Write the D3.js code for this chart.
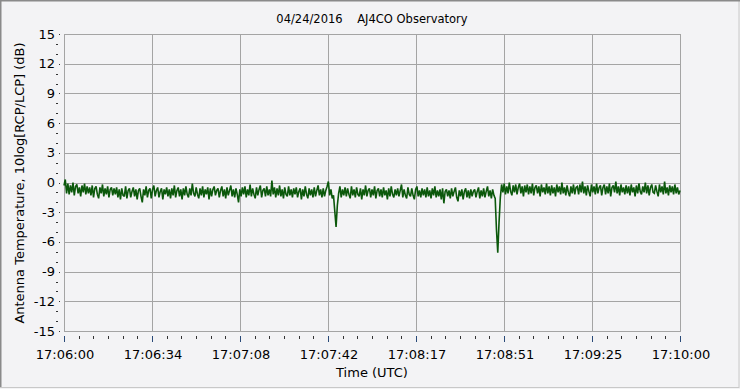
<!DOCTYPE html>
<html><head><meta charset="utf-8">
<script src="https://cdn.jsdelivr.net/npm/d3@7"></script>
<style>
html,body{margin:0;padding:0;background:#f3f3f5;}
svg{display:block;}
text{font-family:"DejaVu Sans",Verdana,sans-serif;fill:#000;}
</style></head>
<body><svg id="c" width="740" height="389"></svg>
<script>
const titleText = "04/24/2016    AJ4CO Observatory";
const xLabel = "Time (UTC)";
const yLabel = "Antenna Temperature, 10log[RCP/LCP] (dB)";
const startSec = 0, endSec = 240, sampleStep = 0.5;
const xTickLabels = ["17:06:00","17:06:34","17:07:08","17:07:42","17:08:17","17:08:51","17:09:25","17:10:00"];
const yTicks = [-15,-12,-9,-6,-3,0,3,6,9,12,15];
const values = [
-0.3,0.3,-1.1,-0.1,-1.2,-0.3,-1.0,0.0,-1.3,-0.4,-0.2,-1.1,-0.5,-1.4,-0.3,-1.0,-0.1,-1.2,-0.4,-1.1,
-0.5,-1.3,-0.3,-1.5,-0.6,-0.4,-1.2,-1.6,-0.5,-1.1,-0.2,-1.4,-0.6,-1.2,-0.4,-1.5,-0.7,-0.5,-1.3,-0.6,
-1.2,-0.5,-1.5,-0.7,-1.7,-0.6,-1.3,-1.4,-0.4,-1.6,-0.8,-0.6,-1.5,-0.9,-0.5,-1.4,-0.7,-1.7,-0.8,-0.6,
-1.4,-2.0,-0.7,-1.3,-0.4,-1.5,-0.8,-0.6,-1.6,-0.7,-0.3,-1.4,-0.8,-0.5,-1.5,-0.9,-0.6,-1.7,-0.7,-1.2,
-0.5,-1.4,-0.7,-1.6,-0.6,-1.3,-0.3,-1.5,-0.8,-0.5,-1.4,-0.7,-1.7,-0.6,-1.3,-0.4,-1.2,-1.5,-0.6,-1.3,
-0.1,-1.1,-1.4,-0.5,-1.2,-1.6,-0.6,-1.3,-0.4,-1.5,-0.7,-1.2,-0.5,-1.7,-0.6,-1.4,-0.7,-0.4,-1.3,-0.8,
-0.6,-1.5,-0.8,-0.4,-1.4,-0.7,-1.6,-0.5,-1.3,-0.8,-0.3,-1.4,-0.7,-1.5,-0.6,-1.2,-2.0,-0.7,-1.4,-0.5,
-1.2,-0.4,-1.5,-0.7,-1.3,-0.2,-1.4,-0.6,-1.2,-1.6,-0.5,-1.3,-0.7,-0.3,-1.5,-0.8,-0.6,-1.4,-0.4,-1.3,
-0.7,-1.4,0.2,-1.2,-0.5,-1.5,-0.6,-1.3,-0.3,-1.4,-0.7,-1.6,-0.5,-1.2,-1.4,-0.4,-1.3,-0.7,-1.5,-0.6,
-1.2,-0.5,-1.5,-0.9,-0.6,-1.7,-0.7,-1.4,-0.4,-1.2,-1.6,-0.6,-1.3,-0.7,-1.5,-0.5,-1.4,-0.8,-0.3,-1.3,
-0.7,-1.5,-0.6,-1.4,-0.8,-0.4,0.1,-1.3,-0.7,-1.6,-1.3,-2.9,-4.5,-2.3,-1.1,-0.4,-1.5,-0.7,-1.3,-0.5,
-1.4,-0.6,-1.2,-1.6,-0.4,-1.3,-0.7,-1.5,-0.5,-1.2,-1.4,-0.6,-1.7,-0.7,-1.3,-0.3,-1.4,-0.8,-0.6,-1.5,
-0.7,-1.3,-0.4,-1.6,-0.8,-0.6,-1.4,-0.7,-1.5,-0.5,-1.3,-0.8,-1.7,-0.6,-1.4,-0.4,-1.2,-1.5,-0.7,-1.3,
-0.6,-1.4,-0.8,-0.2,-1.5,-0.7,-1.3,-1.6,-0.5,-1.2,-1.4,-0.6,-1.3,-1.7,-0.7,-0.4,-1.4,-0.8,-1.5,-0.6,
-1.3,-0.7,-1.5,-0.5,-1.4,-0.8,-1.6,-0.6,-1.3,-0.4,-1.5,-0.8,-1.4,-0.7,-1.7,-0.6,-2.1,-0.9,-0.7,-1.4,
-0.8,-1.6,-0.6,-1.4,-0.9,-0.5,-1.5,-1.9,-0.8,-1.4,-0.7,-1.7,-0.9,-0.6,-1.5,-0.8,-1.6,-0.7,-1.4,-0.9,
-0.7,-1.5,-0.9,-0.5,-1.6,-0.8,-1.4,-0.6,-1.5,-0.9,-0.4,-1.4,-0.8,-1.6,-0.7,-1.3,-1.6,-4.8,-7.1,-4.0,
-1.5,-0.2,-1.0,-0.1,-1.2,-0.4,-1.1,0.0,-0.9,-1.3,-0.3,-1.0,-0.2,-1.2,-0.5,-0.1,-1.1,-0.4,-1.4,-0.3,
-1.0,-0.2,-1.2,-0.4,-1.1,-0.1,-1.3,-0.5,-0.3,-1.1,-0.4,-1.4,-0.2,-1.0,-0.5,-1.2,-0.1,-1.1,-0.4,-1.3,
-0.3,-1.1,-0.5,-1.4,-0.2,-1.0,-0.4,-1.2,0.0,-1.1,-0.5,-1.3,-0.3,-1.0,-1.4,-0.4,-1.1,-0.2,-1.2,-0.5,
-0.4,-1.2,-0.2,-1.0,0.1,-1.1,-0.4,-1.3,-0.3,-0.9,-1.4,-0.2,-1.0,-0.4,-1.2,-0.1,-1.1,-0.5,-0.3,-1.3,
-0.5,-0.2,-1.2,-0.4,-1.1,-0.1,-1.4,-0.5,-0.3,-1.0,0.1,-1.1,-0.4,-1.3,-0.2,-1.0,-0.5,-1.2,-0.3,-1.1,
-0.4,-1.3,-0.2,-1.0,-0.5,-1.4,-0.3,-1.1,-0.1,-0.9,-1.2,-0.4,-1.0,0.0,-1.1,-0.3,-1.3,-0.5,-0.2,-1.0,
-1.1,-0.3,-0.9,-1.4,-0.2,-1.0,-0.4,-1.2,0.1,-1.1,-0.5,-1.3,-0.3,-1.0,-0.4,-1.2,-0.2,-1.1,-0.5,-1.2,-0.8
];

const W = 740, H = 389;
const m = {left:64, right:680, top:34, bottom:331};
const svg = d3.select("#c");

// window frame
svg.append("rect").attr("x",0.5).attr("y",0.5).attr("width",W-1.5).attr("height",H-2)
  .attr("fill","#f3f3f5").attr("stroke","#c8c8c8");
svg.append("line").attr("x1",0).attr("x2",W).attr("y1",0.5).attr("y2",0.5).attr("stroke","#8a8a8a").attr("stroke-width",2);
svg.append("line").attr("x1",0.5).attr("x2",0.5).attr("y1",0).attr("y2",H-2).attr("stroke","#8a8a8a").attr("stroke-width",2);

const x = d3.scaleLinear().domain([startSec,endSec]).range([m.left,m.right]);
const y = d3.scaleLinear().domain([-15,15]).range([m.bottom,m.top]);

const nX = xTickLabels.length;
const xMajor = d3.range(nX).map(i => startSec + i*(endSec-startSec)/(nX-1));
const xMinor = [];
for (let i=0;i<nX-1;i++) for (let k=1;k<6;k++) xMinor.push(xMajor[i] + k*(xMajor[1]-xMajor[0])/6);
const yMinor = d3.range(-15,16,1).filter(v => v%3!==0);

// grid
const g = svg.append("g");
g.selectAll(".vg").data(xMajor.slice(1,-1)).enter().append("line")
  .attr("x1",d=>Math.round(x(d))+0.5).attr("x2",d=>Math.round(x(d))+0.5)
  .attr("y1",m.top).attr("y2",m.bottom).attr("stroke","#a4a4a4");
g.selectAll(".hg").data(yTicks.slice(1,-1)).enter().append("line")
  .attr("y1",d=>Math.round(y(d))+0.5).attr("y2",d=>Math.round(y(d))+0.5)
  .attr("x1",m.left).attr("x2",m.right).attr("stroke","#a4a4a4");
g.append("rect").attr("x",m.left+0.5).attr("y",m.top+0.5)
  .attr("width",m.right-m.left).attr("height",m.bottom-m.top)
  .attr("fill","none").attr("stroke","#a4a4a4");

// data line
const line = d3.line().x((d,i)=>x(startSec + i*sampleStep)).y(d=>y(d));
svg.append("path").datum(values).attr("d",line)
  .attr("fill","none").attr("stroke","#0b580b").attr("stroke-width",1.6)
  .attr("stroke-linejoin","miter").attr("stroke-miterlimit",2);

// y axis
const yAxis = svg.append("g");
yAxis.selectAll(".yl").data(yTicks).enter().append("text")
  .attr("x",55).attr("y",d=>y(d)+4.5).attr("text-anchor","end")
  .attr("font-size","13px").text(d=>d);
yAxis.selectAll(".yt").data(yTicks).enter().append("rect")
  .attr("x",59).attr("y",d=>Math.round(y(d))).attr("width",1).attr("height",1).attr("fill","#333");
yAxis.selectAll(".ym").data(yMinor).enter().append("rect")
  .attr("x",56).attr("y",d=>Math.round(y(d))).attr("width",2).attr("height",1).attr("fill","#333");

// x axis
const xAxis = svg.append("g");
xAxis.selectAll(".xt").data(xMajor).enter().append("rect")
  .attr("x",d=>Math.round(x(d))).attr("y",336).attr("width",1).attr("height",6).attr("fill","#2a4a78");
xAxis.selectAll(".xm").data(xMinor).enter().append("rect")
  .attr("x",d=>Math.round(x(d))).attr("y",336).attr("width",1).attr("height",3).attr("fill","#333");
xAxis.selectAll(".xl").data(xMajor).enter().append("text")
  .attr("x",d=>x(d)+1).attr("y",359).attr("text-anchor","middle")
  .attr("font-size","13px").text((d,i)=>xTickLabels[i]);

// titles
svg.append("text").attr("x",372).attr("y",23).attr("text-anchor","middle")
  .attr("font-size","11.5px").attr("xml:space","preserve").style("white-space","pre").text(titleText);
svg.append("text").attr("x",372).attr("y",377).attr("text-anchor","middle")
  .attr("font-size","13px").text(xLabel);
svg.append("text").attr("transform","translate(24,183) rotate(-90)").attr("text-anchor","middle")
  .attr("font-size","13px").text(yLabel);
</script></body></html>
